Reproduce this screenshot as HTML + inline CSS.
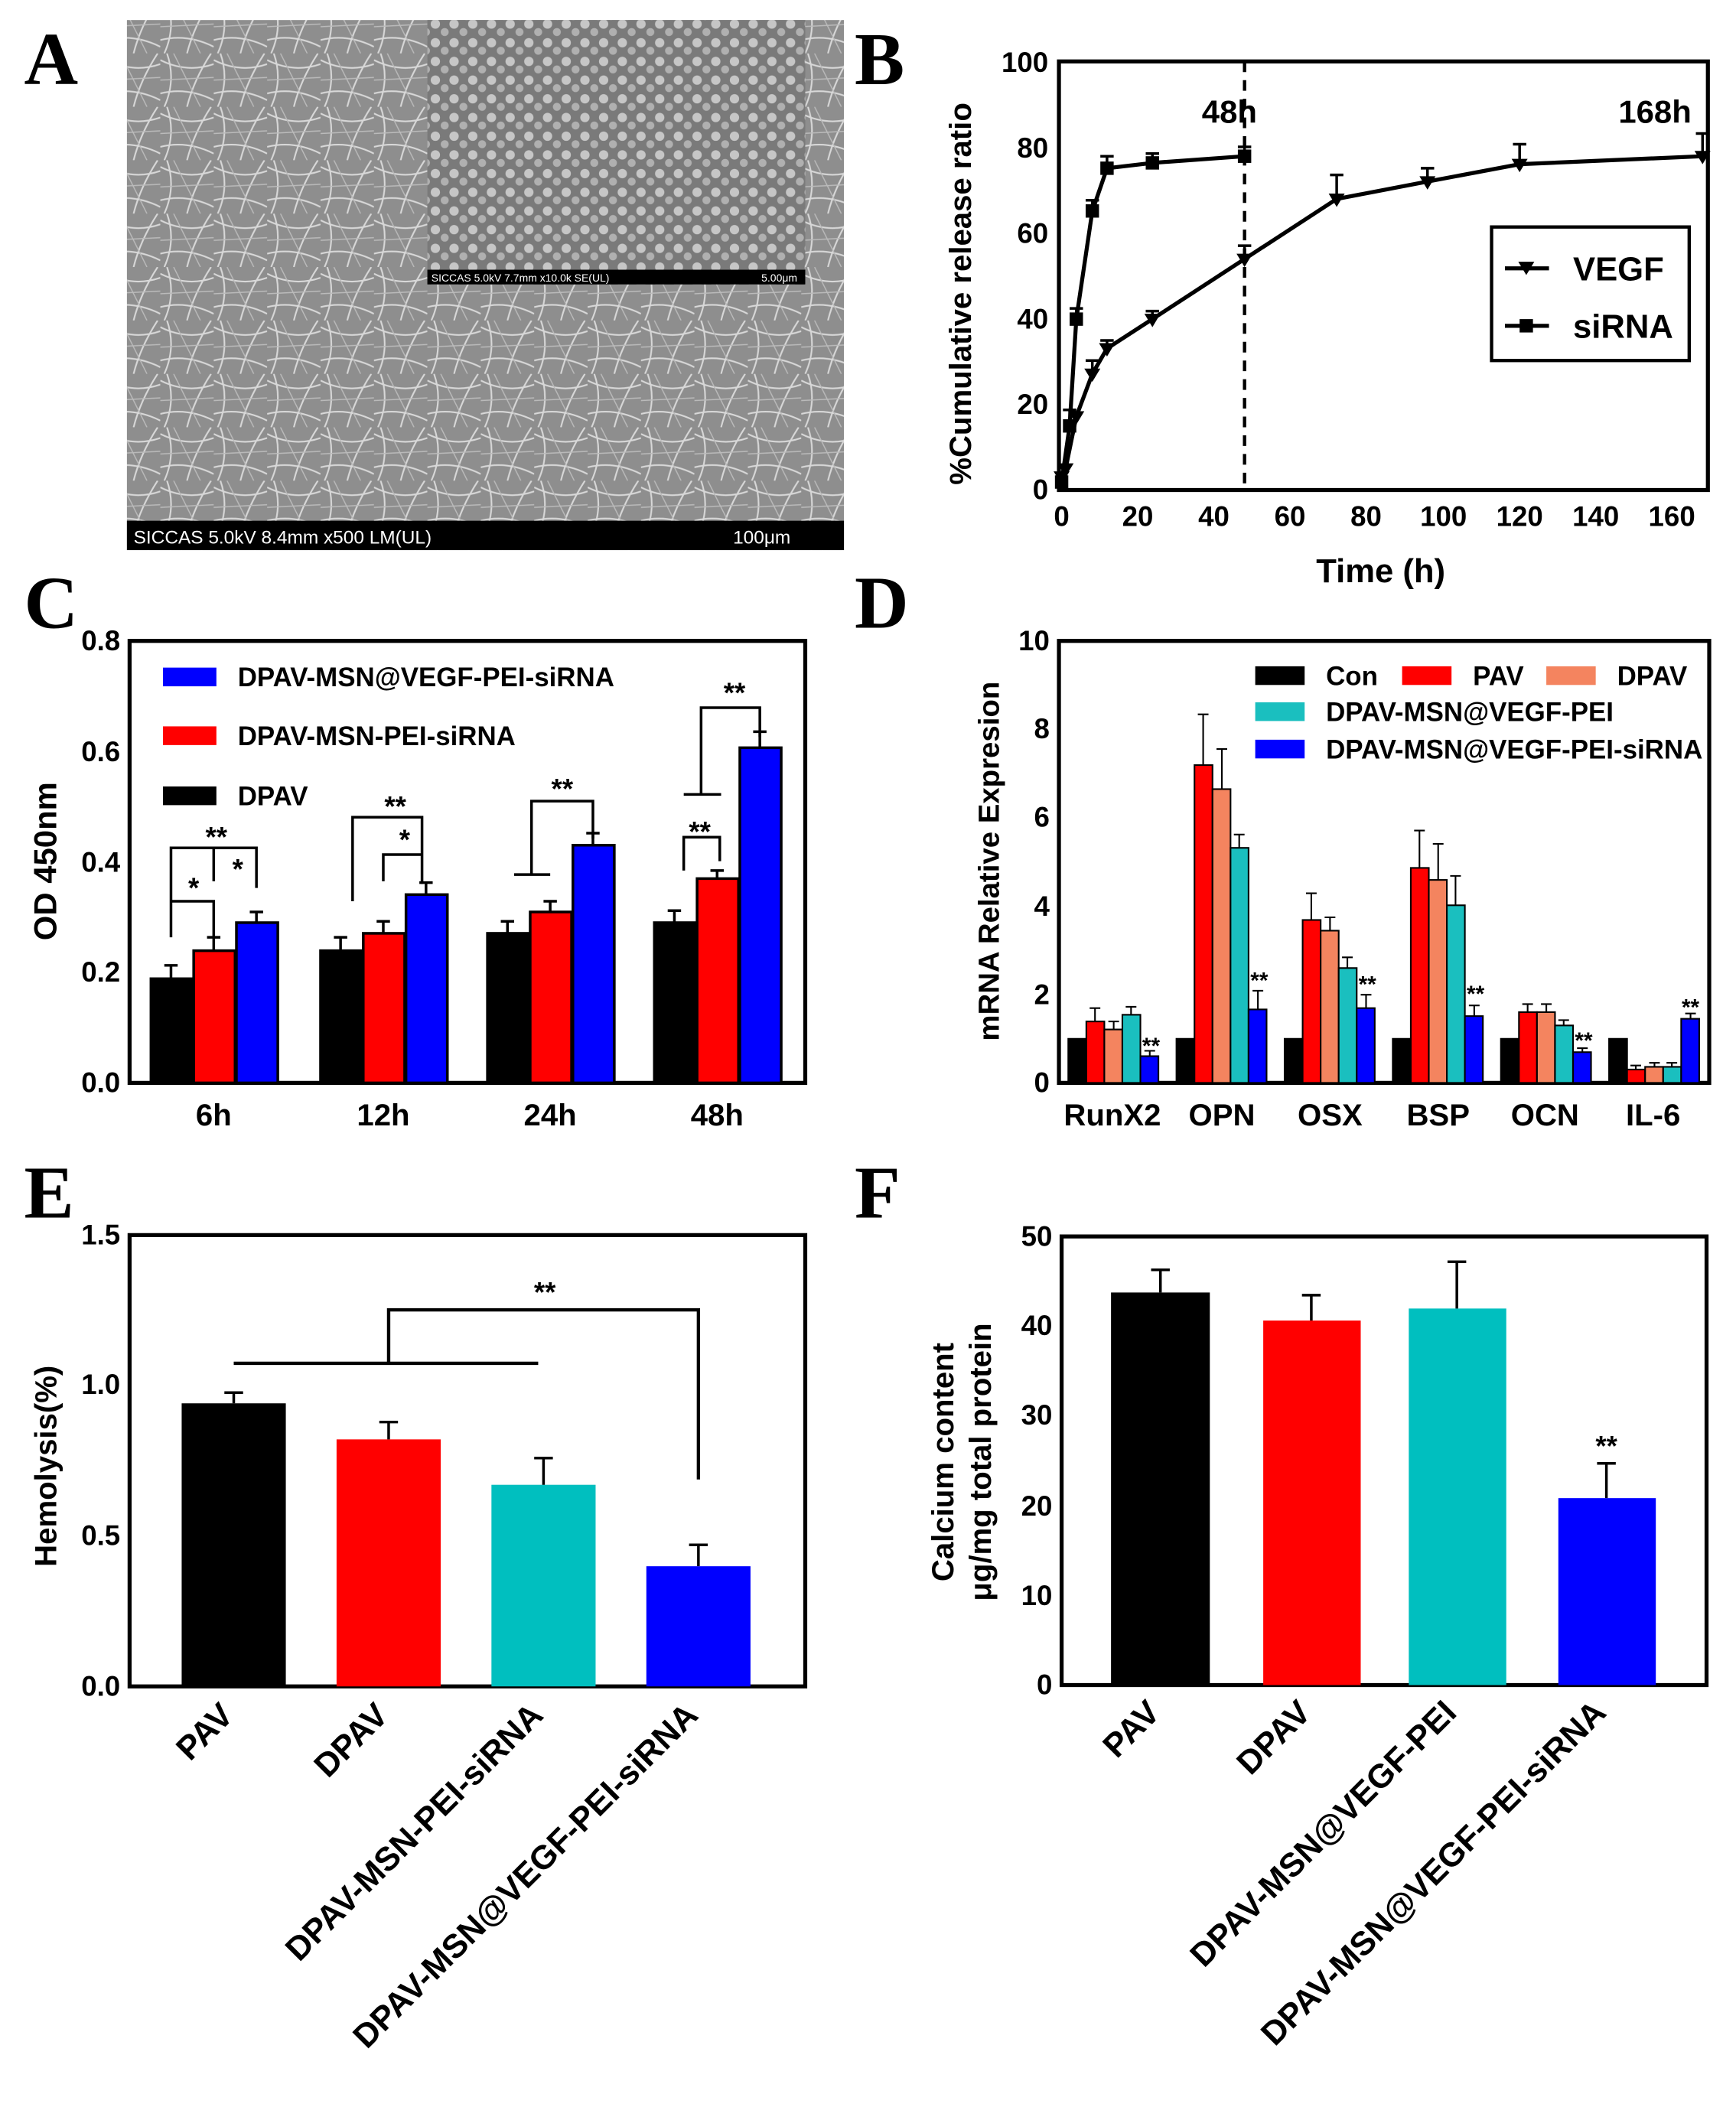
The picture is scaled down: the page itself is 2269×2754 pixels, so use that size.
<!DOCTYPE html>
<html><head><meta charset="utf-8"><style>
html,body{margin:0;padding:0;background:#fff}
svg{display:block}
text{font-family:"Liberation Sans",Arial,sans-serif;font-weight:bold;fill:#000}
.L{font-family:"Liberation Serif",serif;font-size:56px;font-weight:bold}
.t{font-size:21px}
.ax{stroke:#000;stroke-width:3;fill:none}
</style></head><body>
<svg width="2269" height="2754" viewBox="0 0 1300 1578" xmlns="http://www.w3.org/2000/svg">
<defs>
<pattern id="fib" width="40" height="40" patternUnits="userSpaceOnUse">
<rect width="40" height="40" fill="#8e8e8e"/>
<path d="M0 5 Q20 15 40 8 M5 0 Q12 20 3 40 M20 40 Q25 20 38 0 M0 30 Q20 25 40 35" stroke="#d8d8d8" stroke-width="1.2" fill="none"/>
<path d="M10 0 L30 40 M0 20 L40 18" stroke="#bbb" stroke-width="0.8"/>
</pattern>
<pattern id="gr" width="14" height="14" patternUnits="userSpaceOnUse">
<rect width="14" height="14" fill="#7a7a7a"/>
<circle cx="4" cy="4" r="3.5" fill="#c6c6c6"/><circle cx="11" cy="10" r="3" fill="#b0b0b0"/>
</pattern>
</defs>

<!-- Panel A -->
<text class="L" x="18" y="63">A</text>
<rect x="95" y="15" width="537" height="397" fill="url(#fib)"/>
<rect x="320" y="15" width="283" height="198" fill="url(#gr)"/>
<rect x="320" y="202" width="283" height="11" fill="#000"/>
<text x="323" y="211" style="font-size:8px;font-weight:normal;fill:#fff">SICCAS 5.0kV 7.7mm x10.0k SE(UL)</text>
<text x="597" y="211" text-anchor="end" style="font-size:8px;font-weight:normal;fill:#fff">5.00μm</text>
<rect x="95" y="390" width="537" height="22" fill="#000"/>
<text x="100" y="407" style="font-size:14px;font-weight:normal;fill:#fff">SICCAS 5.0kV 8.4mm x500 LM(UL)</text>
<text x="592" y="407" text-anchor="end" style="font-size:14px;font-weight:normal;fill:#fff">100μm</text>

<!-- Panel B -->
<text class="L" x="640" y="63">B</text>
<rect x="793" y="46" width="486" height="321" class="ax"/>
<g class="t" text-anchor="end">
<text x="785" y="374">0</text><text x="785" y="310">20</text><text x="785" y="246">40</text><text x="785" y="182">60</text><text x="785" y="118">80</text><text x="785" y="54">100</text>
</g>
<g class="t" text-anchor="middle">
<text x="795" y="394">0</text><text x="852" y="394">20</text><text x="909" y="394">40</text><text x="966" y="394">60</text><text x="1023" y="394">80</text><text x="1081" y="394">100</text><text x="1138" y="394">120</text><text x="1195" y="394">140</text><text x="1252" y="394">160</text>
</g>
<text x="1034" y="436" text-anchor="middle" style="font-size:25px">Time (h)</text>
<text transform="translate(727,220) rotate(-90)" text-anchor="middle" style="font-size:23px">%Cumulative release ratio</text>
<line x1="932" y1="46" x2="932" y2="367" stroke="#000" stroke-width="2.5" stroke-dasharray="8,6"/>
<text x="900" y="92" style="font-size:24px">48h</text>
<text x="1212" y="92" style="font-size:24px">168h</text>
<polyline fill="none" stroke="#000" stroke-width="3" points="795,361 801,319 806,239 818,158 829,126 863,122 932,117"/>
<g fill="#000">
<rect x="790" y="356" width="10" height="10"/><rect x="796" y="314" width="10" height="10"/><rect x="801" y="234" width="10" height="10"/><rect x="813" y="153" width="10" height="10"/><rect x="824" y="121" width="10" height="10"/><rect x="858" y="117" width="10" height="10"/><rect x="927" y="112" width="10" height="10"/>
</g>
<polyline fill="none" stroke="#000" stroke-width="3" points="795,357 798,351 806,312 818,280 829,261 863,239 932,194 1001,149 1069,136 1138,123 1275,117"/>
<g fill="#000">
<path d="M789,353h12l-6,10z M792,347h12l-6,10z M800,308h12l-6,10z M812,276h12l-6,10z M823,257h12l-6,10z M857,235h12l-6,10z M926,190h12l-6,10z M995,145h12l-6,10z M1063,132h12l-6,10z M1132,119h12l-6,10z M1269,113h12l-6,10z"/>
</g>
<g stroke="#000" stroke-width="2">
<path d="M818,158v-8m-5,0h10 M829,126v-9m-5,0h10 M863,122v-7m-5,0h10 M932,117v-7m-5,0h10 M806,239v-8m-5,0h10 M818,280v-10m-5,0h10 M829,261v-6m-5,0h10 M863,239v-6m-5,0h10 M932,194v-10m-5,0h10 M1001,149v-18m-5,0h10 M1069,136v-10m-5,0h10 M1138,123v-15m-5,0h10 M1275,117v-17m-5,0h10 M801,319v-12m-5,0h10"/>
</g>
<rect x="1117" y="170" width="148" height="100" fill="#fff" stroke="#000" stroke-width="2.5"/>
<line x1="1127" y1="201" x2="1160" y2="201" stroke="#000" stroke-width="3"/><path d="M1137,196h12l-6,10z"/>
<text x="1178" y="210" style="font-size:25px">VEGF</text>
<line x1="1127" y1="244" x2="1160" y2="244" stroke="#000" stroke-width="3"/><rect x="1138" y="239" width="10" height="10"/>
<text x="1178" y="253" style="font-size:25px">siRNA</text>

<!-- Panel C -->
<text class="L" x="18" y="470">C</text>
<rect x="97" y="480" width="506" height="331" class="ax"/>
<g class="t" text-anchor="end">
<text x="90" y="818">0.0</text><text x="90" y="735">0.2</text><text x="90" y="653">0.4</text><text x="90" y="570">0.6</text><text x="90" y="487">0.8</text>
</g>
<g class="t" text-anchor="middle" style="font-size:23px">
<text x="160" y="843">6h</text><text x="287" y="843">12h</text><text x="412" y="843">24h</text><text x="537" y="843">48h</text>
</g>
<text transform="translate(42,645) rotate(-90)" text-anchor="middle" style="font-size:24px">OD 450nm</text>
<g stroke="#000" stroke-width="2">
<rect x="113" y="733" width="31" height="78" fill="#000"/><rect x="145" y="712" width="31" height="99" fill="#f00"/><rect x="177" y="691" width="31" height="120" fill="#00f"/>
<rect x="240" y="712" width="31" height="99" fill="#000"/><rect x="272" y="699" width="31" height="112" fill="#f00"/><rect x="304" y="670" width="31" height="141" fill="#00f"/>
<rect x="365" y="699" width="31" height="112" fill="#000"/><rect x="397" y="683" width="31" height="128" fill="#f00"/><rect x="429" y="633" width="31" height="178" fill="#00f"/>
<rect x="490" y="691" width="31" height="120" fill="#000"/><rect x="522" y="658" width="31" height="153" fill="#f00"/><rect x="554" y="560" width="31" height="251" fill="#00f"/>
<path d="M128,733v-10m-5,0h10 M160,712v-10m-5,0h10 M192,691v-8m-5,0h10 M255,712v-10m-5,0h10 M287,699v-9m-5,0h10 M319,670v-9m-5,0h10 M380,699v-9m-5,0h10 M412,683v-8m-5,0h10 M444,633v-9m-5,0h10 M505,691v-9m-5,0h10 M537,658v-6m-5,0h10 M569,560v-12m-5,0h10"/>
<path fill="none" d="M128,702v-27h32v27 M160,660v-25h32v27 M128,675v-40h64v30 M264,675v-63h52v50 M287,660v-20h29v20 M385,655h27 M398,655v-55h46v28 M512,652v-25h27v18 M512,595h28 M525,595v-65h44v22"/>
</g>
<g style="font-size:21px" text-anchor="middle">
<text x="145" y="672">*</text><text x="178" y="658">*</text><text x="162" y="634">**</text>
<text x="296" y="611">**</text><text x="303" y="636">*</text>
<text x="421" y="598">**</text><text x="524" y="630">**</text><text x="550" y="526">**</text>
</g>
<rect x="122" y="500" width="40" height="14" fill="#00f"/><text x="178" y="514" style="font-size:20px">DPAV-MSN@VEGF-PEI-siRNA</text>
<rect x="122" y="544" width="40" height="14" fill="#f00"/><text x="178" y="558" style="font-size:20px">DPAV-MSN-PEI-siRNA</text>
<rect x="122" y="589" width="40" height="14" fill="#000"/><text x="178" y="603" style="font-size:20px">DPAV</text>

<!-- Panel D -->
<text class="L" x="640" y="470">D</text>
<rect x="793" y="480" width="487" height="331" class="ax"/>
<g class="t" text-anchor="end">
<text x="786" y="818">0</text><text x="786" y="752">2</text><text x="786" y="686">4</text><text x="786" y="619">6</text><text x="786" y="553">8</text><text x="786" y="487">10</text>
</g>
<g class="t" text-anchor="middle" style="font-size:23px">
<text x="833" y="843">RunX2</text><text x="915" y="843">OPN</text><text x="996" y="843">OSX</text><text x="1077" y="843">BSP</text><text x="1157" y="843">OCN</text><text x="1238" y="843">IL-6</text>
</g>
<text transform="translate(748,645) rotate(-90)" text-anchor="middle" style="font-size:22px">mRNA Relative Expresion</text>
<g stroke="#000" stroke-width="1.2">
<rect x="800" y="778" width="13.5" height="33" fill="#000"/><rect x="813.5" y="765" width="13.5" height="46" fill="#f00"/><rect x="827" y="771" width="13.5" height="40" fill="#f4845f"/><rect x="840.5" y="760" width="13.5" height="51" fill="#1abfbf"/><rect x="854" y="791" width="13.5" height="20" fill="#00f"/>
<rect x="881" y="778" width="13.5" height="33" fill="#000"/><rect x="894.5" y="573" width="13.5" height="238" fill="#f00"/><rect x="908" y="591" width="13.5" height="220" fill="#f4845f"/><rect x="921.5" y="635" width="13.5" height="176" fill="#1abfbf"/><rect x="935" y="756" width="13.5" height="55" fill="#00f"/>
<rect x="962" y="778" width="13.5" height="33" fill="#000"/><rect x="975.5" y="689" width="13.5" height="122" fill="#f00"/><rect x="989" y="697" width="13.5" height="114" fill="#f4845f"/><rect x="1002.5" y="725" width="13.5" height="86" fill="#1abfbf"/><rect x="1016" y="755" width="13.5" height="56" fill="#00f"/>
<rect x="1043" y="778" width="13.5" height="33" fill="#000"/><rect x="1056.5" y="650" width="13.5" height="161" fill="#f00"/><rect x="1070" y="659" width="13.5" height="152" fill="#f4845f"/><rect x="1083.5" y="678" width="13.5" height="133" fill="#1abfbf"/><rect x="1097" y="761" width="13.5" height="50" fill="#00f"/>
<rect x="1124" y="778" width="13.5" height="33" fill="#000"/><rect x="1137.5" y="758" width="13.5" height="53" fill="#f00"/><rect x="1151" y="758" width="13.5" height="53" fill="#f4845f"/><rect x="1164.5" y="768" width="13.5" height="43" fill="#1abfbf"/><rect x="1178" y="788" width="13.5" height="23" fill="#00f"/>
<rect x="1205" y="778" width="13.5" height="33" fill="#000"/><rect x="1218.5" y="801" width="13.5" height="10" fill="#f00"/><rect x="1232" y="799" width="13.5" height="12" fill="#f4845f"/><rect x="1245.5" y="799" width="13.5" height="12" fill="#1abfbf"/><rect x="1259" y="763" width="13.5" height="48" fill="#00f"/>
<path fill="none" d="M820,765v-10m-4,0h8 M834,771v-6m-4,0h8 M847,760v-6m-4,0h8 M861,791v-4m-4,0h8 M901,573v-38m-4,0h8 M915,591v-30m-4,0h8 M928,635v-10m-4,0h8 M942,756v-14m-4,0h8 M982,689v-20m-4,0h8 M996,697v-10m-4,0h8 M1009,725v-8m-4,0h8 M1023,755v-10m-4,0h8 M1063,650v-28m-4,0h8 M1077,659v-27m-4,0h8 M1090,678v-22m-4,0h8 M1104,761v-8m-4,0h8 M1144,758v-6m-4,0h8 M1158,758v-6m-4,0h8 M1171,768v-4m-4,0h8 M1185,788v-3m-4,0h8 M1225,801v-3m-4,0h8 M1239,799v-3m-4,0h8 M1252,799v-3m-4,0h8 M1266,763v-4m-4,0h8"/>
</g>
<g style="font-size:17px;font-weight:normal" text-anchor="middle">
<text x="862" y="789">**</text><text x="943" y="740">**</text><text x="1024" y="743">**</text><text x="1105" y="750">**</text><text x="1186" y="785">**</text><text x="1266" y="760">**</text>
</g>
<g style="font-size:20px;font-weight:normal">
<rect x="940" y="499" width="37" height="14" fill="#000"/><text x="993" y="513">Con</text>
<rect x="1050" y="499" width="37" height="14" fill="#f00"/><text x="1103" y="513">PAV</text>
<rect x="1158" y="499" width="37" height="14" fill="#f4845f"/><text x="1211" y="513">DPAV</text>
<rect x="940" y="526" width="37" height="14" fill="#1abfbf"/><text x="993" y="540">DPAV-MSN@VEGF-PEI</text>
<rect x="940" y="554" width="37" height="14" fill="#00f"/><text x="993" y="568">DPAV-MSN@VEGF-PEI-siRNA</text>
</g>

<!-- Panel E -->
<text class="L" x="18" y="912">E</text>
<path class="ax" d="M97,925V1263H603V925Z"/>
<g class="t" text-anchor="end">
<text x="90" y="1270">0.0</text><text x="90" y="1157">0.5</text><text x="90" y="1044">1.0</text><text x="90" y="932">1.5</text>
</g>
<text transform="translate(42,1098) rotate(-90)" text-anchor="middle" style="font-size:23px">Hemolysis(%)</text>
<rect x="136" y="1051" width="78" height="212" fill="#000"/>
<rect x="252" y="1078" width="78" height="185" fill="#f00"/>
<rect x="368" y="1112" width="78" height="151" fill="#00bfbf"/>
<rect x="484" y="1173" width="78" height="90" fill="#00f"/>
<g stroke="#000" stroke-width="2" fill="none">
<path d="M175,1051v-8m-7,0h14 M291,1078v-13m-7,0h14 M407,1112v-20m-7,0h14 M523,1173v-16m-7,0h14"/>
<path stroke-width="2.5" d="M175,1021H403 M291,1021V981H523V1108"/>
</g>
<text x="408" y="975" text-anchor="middle" style="font-size:21px">**</text>
<g style="font-size:25px" text-anchor="end">
<text transform="translate(176,1286) rotate(-45)">PAV</text>
<text transform="translate(292,1286) rotate(-45)">DPAV</text>
<text transform="translate(408,1286) rotate(-45)">DPAV-MSN-PEI-siRNA</text>
<text transform="translate(524,1286) rotate(-45)">DPAV-MSN@VEGF-PEI-siRNA</text>
</g>

<!-- Panel F -->
<text class="L" x="640" y="912">F</text>
<path class="ax" d="M795,926V1262H1278V926Z"/>
<g class="t" text-anchor="end">
<text x="788" y="1269">0</text><text x="788" y="1202">10</text><text x="788" y="1135">20</text><text x="788" y="1067">30</text><text x="788" y="1000">40</text><text x="788" y="933">50</text>
</g>
<text transform="translate(714,1095) rotate(-90)" text-anchor="middle" style="font-size:23px">Calcium content</text>
<text transform="translate(742,1095) rotate(-90)" text-anchor="middle" style="font-size:23px">μg/mg total protein</text>
<rect x="832" y="968" width="74" height="294" fill="#000"/>
<rect x="946" y="989" width="73" height="273" fill="#f00"/>
<rect x="1055" y="980" width="73" height="282" fill="#00bfbf"/>
<rect x="1167" y="1122" width="73" height="140" fill="#00f"/>
<g stroke="#000" stroke-width="2" fill="none">
<path d="M869,968v-17m-7,0h14 M982,989v-19m-7,0h14 M1091,980v-35m-7,0h14 M1203,1122v-26m-7,0h14"/>
</g>
<text x="1203" y="1090" text-anchor="middle" style="font-size:21px">**</text>
<g style="font-size:25px" text-anchor="end">
<text transform="translate(870,1284) rotate(-45)">PAV</text>
<text transform="translate(983,1284) rotate(-45)">DPAV</text>
<text transform="translate(1092,1284) rotate(-45)">DPAV-MSN@VEGF-PEI</text>
<text transform="translate(1204,1284) rotate(-45)">DPAV-MSN@VEGF-PEI-siRNA</text>
</g>
</svg>
</body></html>
